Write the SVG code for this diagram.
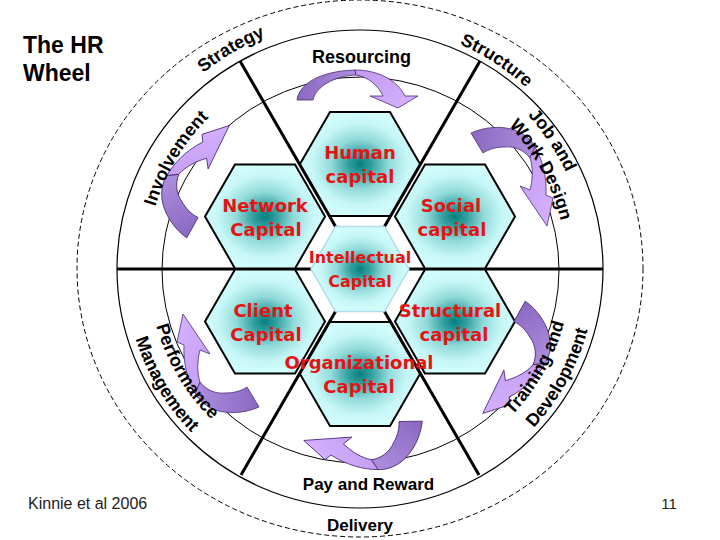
<svg xmlns="http://www.w3.org/2000/svg" width="720" height="540" viewBox="0 0 720 540">
<defs>
<style>
.ring{fill:none;stroke:#000}
.spoke{stroke:#000;stroke-width:3}
.hex{fill:url(#hexGrad);stroke:#000;stroke-width:2}
.hexi{fill:url(#hexGrad);stroke:#b5dcea;stroke-width:1.5}
.cap{font-family:"DejaVu Sans",Verdana,sans-serif;font-weight:bold;font-size:18px;fill:#e41414;text-anchor:middle}
.capS{font-size:16px}
.lbl{font-family:"Liberation Sans",Arial,sans-serif;font-weight:bold;font-size:18px;fill:#000}
.mid{text-anchor:middle}
.note{font-family:"Liberation Sans",Arial,sans-serif;font-size:16px;fill:#222}
.dark{fill:url(#gDark);stroke:#4a2a78;stroke-width:0.8}
.light{fill:url(#gLight);stroke:#4a2a78;stroke-width:0.8}
</style>
<radialGradient id="hexGrad" cx="0.5" cy="0.5" r="0.5">
<stop offset="0" stop-color="#067f7f"/>
<stop offset="0.2" stop-color="#34a0a0"/>
<stop offset="0.48" stop-color="#92dada"/>
<stop offset="0.78" stop-color="#c6f6f6"/>
<stop offset="1" stop-color="#d2fdfd"/>
</radialGradient>
<linearGradient id="gDark" x1="0" y1="0" x2="1" y2="0">
<stop offset="0" stop-color="#8a68c0"/>
<stop offset="1" stop-color="#ad8ede"/>
</linearGradient>
<linearGradient id="gLight" x1="0" y1="0" x2="1" y2="1">
<stop offset="0" stop-color="#c29af0"/>
<stop offset="1" stop-color="#d6b2ff"/>
</linearGradient>
<path id="hex" d="M-60,0 L-30,-52 L30,-52 L60,0 L30,52 L-30,52 Z"/>
<g id="arw">
<path class="dark" d="M471,133 C484,127 503,125 517,131 C526,135 532,141 535,147 L530,158 C524,150 514,146 505,147 C496,147 489,149 483,153 Z"/>
<path class="light" d="M535,147 C542,159 547,176 546,195 L553,198 L547,226 L520,186 L530,190 C533,178 533,167 530,158 Z"/>
</g>
<path id="pStrategy" d="M112.5,227.1 A251,251 0 0 1 444.2,32.6"/>
<path id="pStructure" d="M288.9,33.5 A246,246 0 0 1 604.3,239.9"/>
<path id="pInvolve" d="M157.7,338.7 A214,214 0 0 1 326.5,57.6"/>
<path id="pJob" d="M384.6,42.8 A227.5,227.5 0 0 1 578.5,332.5"/>
<path id="pWork" d="M400.4,66.6 A206.4,206.4 0 0 1 552.3,343.9"/>
<path id="pTrain" d="M399.2,476.3 A211,211 0 0 0 557.4,194.5"/>
<path id="pDev" d="M406.1,499.9 A235.5,235.5 0 0 0 579.4,183.4"/>
<path id="pPerf" d="M160.7,198.5 A211.5,211.5 0 0 0 325.1,477.6"/>
<path id="pMgmt" d="M138.3,191.4 A235,235 0 0 0 322.0,500.9"/>
</defs>
<rect width="720" height="540" fill="#fff"/>

<g id="title">
<text class="lbl" x="23" y="53" style="font-size:23px">The HR</text>
<text class="lbl" x="23" y="81" style="font-size:23px">Wheel</text>
</g>

<g id="rings">
<ellipse class="ring" cx="360" cy="268.5" rx="283" ry="268.5" stroke-dasharray="5 3"/>
<ellipse class="ring" cx="360" cy="269" rx="243" ry="239" stroke-width="1.2"/>
<ellipse class="ring" cx="360.5" cy="270" rx="198.5" ry="193"/>
</g>

<g id="spokes">
<line class="spoke" x1="117" y1="269" x2="603" y2="269"/>
<line class="spoke" x1="360" y1="269" x2="240" y2="61"/>
<line class="spoke" x1="360" y1="269" x2="480" y2="61"/>
<line class="spoke" x1="360" y1="269" x2="241" y2="475"/>
<line class="spoke" x1="360" y1="269" x2="479" y2="475"/>
</g>

<g id="human-capital">
<use href="#hex" class="hex" x="360" y="164"/>
<text class="cap" x="360" y="159">Human</text>
<text class="cap" x="360" y="183">capital</text>
</g>
<g id="network-capital">
<use href="#hex" class="hex" x="265" y="216.5"/>
<text class="cap" x="265" y="211.5">Network</text>
<text class="cap" x="266" y="235.5">Capital</text>
</g>
<g id="social-capital">
<use href="#hex" class="hex" x="455" y="216.5"/>
<text class="cap" x="451" y="211.5">Social</text>
<text class="cap" x="452" y="235.5">capital</text>
</g>
<g id="client-capital">
<use href="#hex" class="hex" x="265" y="321.5"/>
<text class="cap" x="263" y="316.5">Client</text>
<text class="cap" x="266" y="340.5">Capital</text>
</g>
<g id="structural-capital">
<use href="#hex" class="hex" x="455" y="321.5"/>
<text class="cap" x="450" y="316.5">Structural</text>
<text class="cap" x="454" y="340.5">capital</text>
</g>
<g id="organizational-capital">
<use href="#hex" class="hex" x="360" y="374"/>
<text class="cap" x="359" y="369">Organizational</text>
<text class="cap" x="359" y="393">Capital</text>
</g>
<g id="intellectual-capital">
<path class="hexi" d="M311,269 L335.5,226.6 L384.5,226.6 L409,269 L384.5,311.4 L335.5,311.4 Z"/>
<text class="cap capS" x="360" y="263">Intellectual</text>
<text class="cap capS" x="360" y="287">Capital</text>
</g>

<g id="connectors">
<path class="dark" d="M297,100 C299,84 320,71 355,70 L356,75 C335,76 316,86 313,100 Z"/>
<path class="light" d="M355,70 C378,70 397,80 405,96 L418,96 L398,108 L370,96 L383,96 C378,85 368,77 356,75 Z"/>
<use href="#arw"/>
<use href="#arw" transform="translate(-8,4) rotate(60 360 269)"/>
<use href="#arw" transform="translate(0,-12) rotate(120 360 269)"/>
<use href="#arw" transform="translate(10,2) rotate(180 360 269)"/>
<use href="#arw" transform="translate(0,-3) rotate(240 360 269)"/>
</g>

<g id="ring-labels">
<text class="lbl"><textPath href="#pStrategy" startOffset="50%" text-anchor="middle">Strategy</textPath></text>
<text class="lbl"><textPath href="#pStructure" startOffset="50%" text-anchor="middle">Structure</textPath></text>
<text class="lbl"><textPath href="#pInvolve" startOffset="50%" text-anchor="middle">Involvement</textPath></text>
<text class="lbl"><textPath href="#pJob" startOffset="50%" text-anchor="middle">Job and</textPath></text>
<text class="lbl"><textPath href="#pWork" startOffset="50%" text-anchor="middle">Work Design</textPath></text>
<text class="lbl"><textPath href="#pTrain" startOffset="50%" text-anchor="middle">Training and</textPath></text>
<text class="lbl"><textPath href="#pDev" startOffset="50%" text-anchor="middle">Development</textPath></text>
<text class="lbl"><textPath href="#pPerf" startOffset="50%" text-anchor="middle">Performance</textPath></text>
<text class="lbl"><textPath href="#pMgmt" startOffset="50%" text-anchor="middle">Management</textPath></text>
<text class="lbl mid" x="361.5" y="63">Resourcing</text>
<text class="lbl mid" x="368.5" y="490" style="font-size:17px">Pay and Reward</text>
<text class="lbl mid" x="360" y="531" style="font-size:17px">Delivery</text>
</g>

<g id="footer">
<text class="note" x="28" y="509">Kinnie et al 2006</text>
<text class="note mid" x="669" y="509" style="font-size:15px">11</text>
</g>
</svg>
